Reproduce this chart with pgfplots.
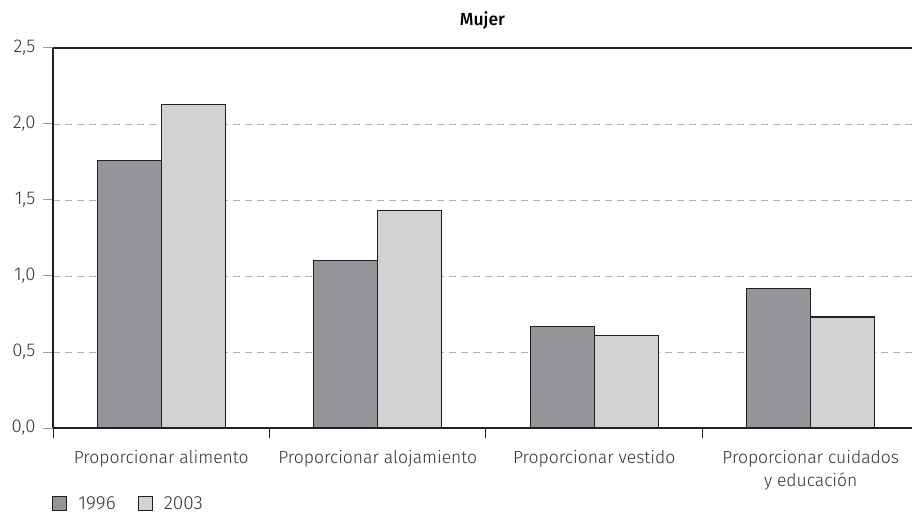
\documentclass[border=0pt]{standalone}
\usepackage{fontspec}
\setmainfont{Fira Sans}[UprightFont=* Light, BoldFont=* Medium]
\usepackage{pgfplots}
\pgfplotsset{compat=1.18}
\definecolor{darkbar}{HTML}{939598}
\definecolor{lightbar}{HTML}{D1D2D4}
\definecolor{axline}{HTML}{231F20}
\definecolor{txt}{HTML}{333333}
\begin{document}
\begin{tikzpicture}
\begin{axis}[
  at={(0,0)}, anchor=south west,
  scale only axis, width=859bp, height=380bp,
  xmin=-0.5, xmax=3.468, ymin=0, ymax=2.5,
  axis y line*=left, axis x line*=box,
  axis line style={axline, line width=1.6bp},
  ybar=0pt, bar width=64bp,
  xtick={-0.5,0.5,1.5,2.5}, xticklabels={}, xtick pos=bottom,
  xtick style={draw=axline, line width=1bp},
  major tick length=10bp,
  tick align=outside,
  extra x ticks={0,1,2,3},
  extra x tick labels={Proporcionar alimento,Proporcionar alojamiento,Proporcionar vestido,{Proporcionar cuidados\\y educación}},
  extra x tick style={major tick length=0pt, grid=none, tick label style={align=center, anchor=north, yshift=-19bp, text=txt, font=\fontsize{17.5bp}{23bp}\selectfont}},
  ytick={0,0.5,1,1.5,2,2.5},
  ytick style={draw=gray!80, line width=1bp},
  ytick pos=left,
  ymajorgrids, grid style={dashed, gray!60, line width=0.9bp, dash pattern=on 7bp off 5bp},
  yticklabel style={/pgf/number format/.cd, use comma, fixed, fixed zerofill, precision=1, /tikz/.cd, text=txt, font=\fontsize{18.5bp}{20bp}\selectfont},
  /pgf/number format/assume math mode=true,
  yticklabel style={xshift=-4bp},
  title={\textbf{Mujer}}, title style={text=black, font=\fontsize{17.5bp}{19bp}\selectfont, yshift=9bp},
  legend columns=2,
  legend style={at={(0,0)}, anchor=north west, xshift=-4bp, yshift=-64bp, draw=none, fill=none, font=\fontsize{19bp}{20bp}\selectfont, text=txt, /tikz/every even column/.append style={column sep=20bp}},
  legend image code/.code={\draw[#1, draw=axline, line width=1bp] (0bp,-7bp) rectangle (14bp,7bp); \path (23bp,0bp);},
]
\addplot[fill=darkbar, draw=axline, line width=1.2bp] coordinates {(0,1.76) (1,1.10) (2,0.67) (3,0.92)};
\addplot[fill=lightbar, draw=axline, line width=1.2bp] coordinates {(0,2.13) (1,1.43) (2,0.61) (3,0.73)};
\legend{1996,2003}
\end{axis}
\pgfresetboundingbox
\path (-53bp,-85bp) rectangle (859bp,428bp);
\end{tikzpicture}
\end{document}
